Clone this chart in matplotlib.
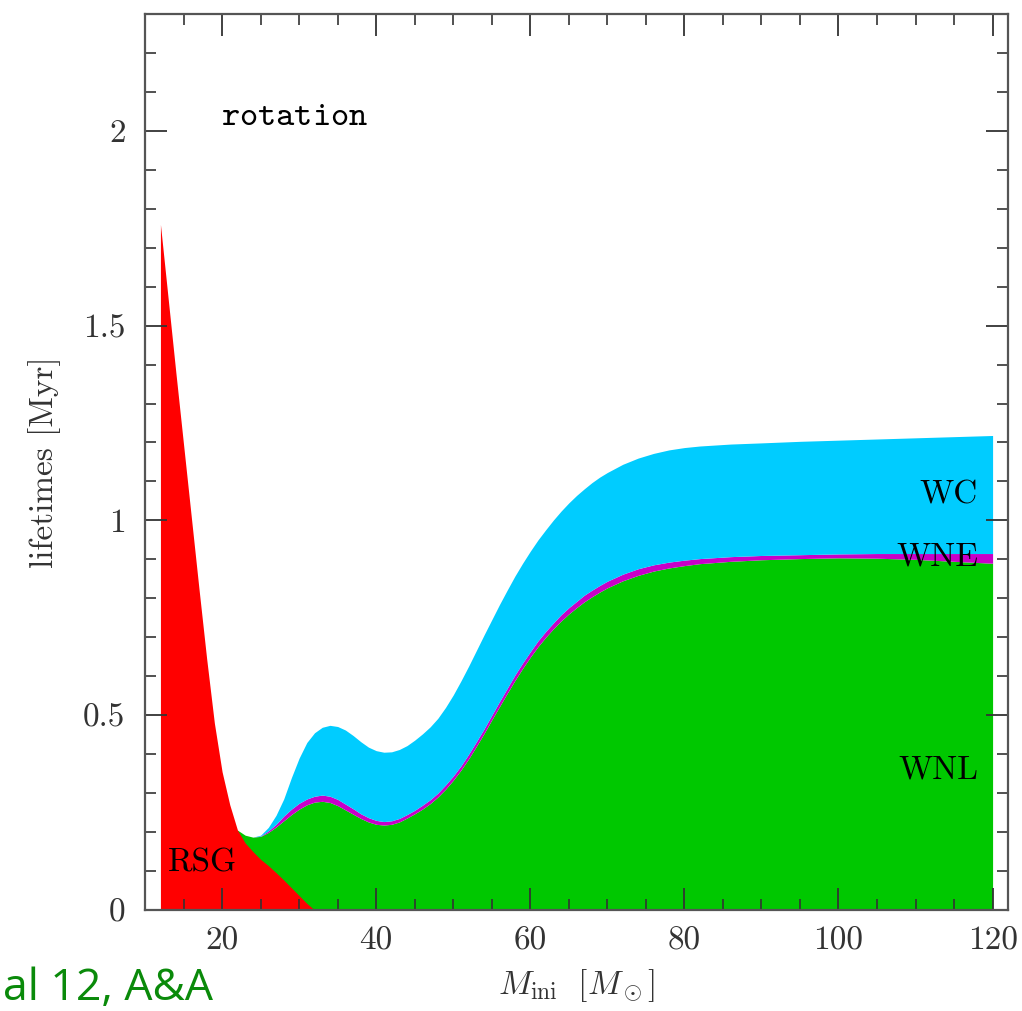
import matplotlib
matplotlib.use('Agg')
import matplotlib.pyplot as plt
import numpy as np
from matplotlib.ticker import MultipleLocator, FuncFormatter

plt.rcParams['mathtext.fontset'] = 'cm'

# RSG phase: initial mass (Msun) and RSG lifetime (Myr)
rsg_mass = [12, 13, 14, 15, 16, 17, 18, 19, 20, 21, 22, 23, 24, 25, 26, 27, 28, 29, 30, 31, 32]
rsg_top = [1.76, 1.57, 1.38, 1.195, 1.01, 0.825, 0.645, 0.48, 0.355, 0.27, 0.205, 0.172, 0.15,
           0.13, 0.114, 0.096, 0.077, 0.057, 0.037, 0.017, 0.0]

# WR phases: masses and cumulative upper edges (Myr); WNE given as its own duration
wr_mass = [22, 23, 24, 25, 26, 27, 28, 29, 30, 31, 32, 33, 34, 35, 36, 37, 38, 39, 40, 41,
           42, 43, 44, 45, 46, 47, 48, 49, 50, 51, 52, 53, 54, 55, 56, 57, 58, 59, 60, 61,
           62, 63, 64, 65, 66, 67, 68, 69, 70, 72, 74, 76, 78, 80, 82, 86, 90, 95, 100,
           105, 110, 115, 120]

wnl_top = [0.205, 0.192, 0.187, 0.189, 0.199, 0.213, 0.229, 0.245, 0.259, 0.27,
           0.277, 0.279, 0.276, 0.268, 0.257, 0.246, 0.235, 0.226, 0.22, 0.218,
           0.22, 0.226, 0.236, 0.247, 0.259, 0.273, 0.29, 0.31, 0.333, 0.359,
           0.388, 0.42, 0.453, 0.488, 0.522, 0.556, 0.589, 0.62, 0.649, 0.676,
           0.70, 0.722, 0.742, 0.76, 0.776, 0.791, 0.804, 0.816, 0.827, 0.845,
           0.859, 0.87, 0.878, 0.884, 0.889, 0.895, 0.899, 0.902, 0.904,
           0.903, 0.90, 0.895, 0.89]

wne_dur = [0, 0, 0, 0.001, 0.004, 0.007, 0.012, 0.014, 0.015, 0.015,
           0.015, 0.016, 0.016, 0.016, 0.015, 0.014, 0.012, 0.011, 0.01, 0.009,
           0.009, 0.009, 0.009, 0.009, 0.01, 0.01, 0.01, 0.011, 0.011, 0.011,
           0.012, 0.012, 0.012, 0.012, 0.013, 0.013, 0.014, 0.014, 0.014, 0.015,
           0.015, 0.015, 0.016, 0.016, 0.016, 0.017, 0.017, 0.017, 0.017, 0.017,
           0.017, 0.016, 0.015, 0.014, 0.013, 0.012, 0.011, 0.01, 0.01,
           0.012, 0.015, 0.02, 0.025]

wc_top = [0.205, 0.192, 0.187, 0.192, 0.212, 0.243, 0.285, 0.34, 0.39, 0.43,
          0.455, 0.469, 0.474, 0.471, 0.462, 0.448, 0.432, 0.418, 0.409, 0.405,
          0.406, 0.412, 0.422, 0.436, 0.452, 0.47, 0.492, 0.52, 0.552, 0.588,
          0.626, 0.666, 0.706, 0.745, 0.784, 0.821, 0.857, 0.89, 0.921, 0.95,
          0.976, 1.001, 1.024, 1.045, 1.064, 1.081, 1.097, 1.111, 1.123, 1.144,
          1.16, 1.172, 1.181, 1.187, 1.191, 1.196, 1.199, 1.203, 1.206,
          1.209, 1.212, 1.215, 1.218]

phase_labels = ['RSG', 'WNL', 'WNE', 'WC']

m = np.array(wr_mass)
wnl = np.array(wnl_top)
wne = wnl + np.array(wne_dur)
wc = np.array(wc_top)

fig = plt.figure(figsize=(10.22, 10.11), dpi=100)
ax = fig.add_axes([0.1419, 0.0999, 0.8444, 0.8863])

# WR phases stacked, RSG drawn over the bottom
ax.fill_between(m, 0, wnl, color='#00c800', lw=0)
ax.fill_between(m, wnl, wne, color='#c800c8', lw=0)
ax.fill_between(m, wne, wc, color='#00ccff', lw=0)
ax.fill_between(rsg_mass, 0, rsg_top, color='#ff0000', lw=0)

ax.set_xlim(10, 122)
ax.set_ylim(0, 2.3)

ax.xaxis.set_major_locator(MultipleLocator(20))
ax.xaxis.set_minor_locator(MultipleLocator(5))
ax.yaxis.set_major_locator(MultipleLocator(0.5))
ax.yaxis.set_minor_locator(MultipleLocator(0.1))
ax.xaxis.set_major_formatter(FuncFormatter(lambda v, p: '%g' % v))
ax.yaxis.set_major_formatter(FuncFormatter(lambda v, p: '%g' % v))

ax.tick_params(which='both', direction='in', top=True, right=True, color='#333333')
ax.tick_params(which='major', length=16, width=1.3, labelsize=24)
ax.tick_params(which='minor', length=8, width=1.2)
ax.tick_params(axis='x', pad=12)
ax.tick_params(axis='y', pad=14)
for lbl in ax.get_xticklabels() + ax.get_yticklabels():
    lbl.set_family('cmr10')
    lbl.set_color('#333333')
for s in ax.spines.values():
    s.set_color('#555555')
    s.set_linewidth(1.6)

ax.set_ylabel('lifetimes [Myr]', family='cmr10', fontsize=24, color='#333333', labelpad=16)
ax.set_xlabel(r'$M_{\rm ini}\ \ [M_\odot]$', fontsize=24, color='#333333', labelpad=8)

ax.text(19.9, 2.04, r'$\mathtt{rotation}$', fontsize=25, va='center', ha='left')
ax.text(13.0, 0.12, phase_labels[0], family='cmr10', fontsize=24, va='center', ha='left')
ax.text(118.2, 0.36, phase_labels[1], family='cmr10', fontsize=24, va='center', ha='right')
ax.text(118.2, 0.906, phase_labels[2], family='cmr10', fontsize=24, va='center', ha='right')
ax.text(118.1, 1.064, phase_labels[3], family='cmr10', fontsize=24, va='center', ha='right')

fig.text(0.003, 0.0, 'al 12, A&A', family='Open Sans', fontsize=32, color='#0a8a0a',
         ha='left', va='bottom')

fig.savefig('out.png', dpi=100)
